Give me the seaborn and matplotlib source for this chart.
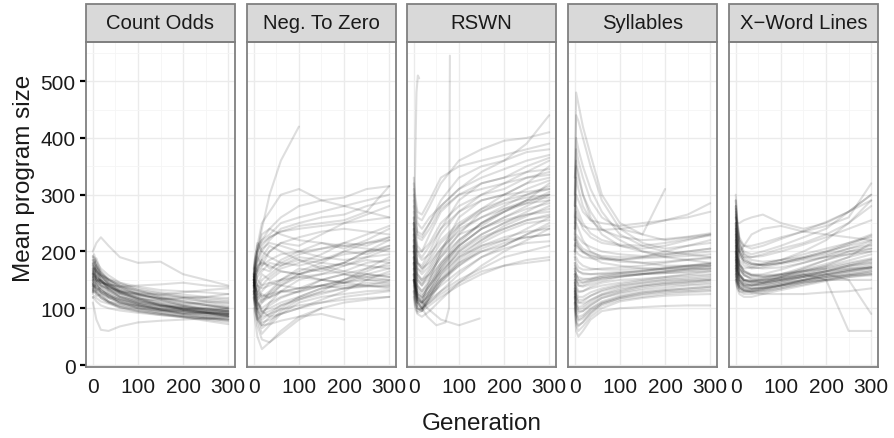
import numpy as np
import pandas as pd
import matplotlib
matplotlib.use("Agg")
import matplotlib.pyplot as plt
from matplotlib.patches import Rectangle
from matplotlib.ticker import MultipleLocator
import seaborn as sns

sns.set_style("white")
plt.rcParams['font.family'] = ['Liberation Sans', 'DejaVu Sans']

# ---------------- data ----------------
facets = ["Count Odds", "Neg. To Zero", "RSWN", "Syllables", "X\u2212Word Lines"]
generations = [0, 3, 8, 18, 35, 60, 100, 150, 200, 250, 300]

count_odds_runs = [
    [150,160,150,140,128,118,108,100,95,92,90],
    [170,175,165,150,135,122,110,102,96,92,88],
    [135,140,135,128,120,112,105,98,92,88,85],
    [190,195,180,160,145,130,118,110,104,100,98],
    [125,130,125,118,110,104,98,92,88,84,82],
    [160,165,158,148,138,130,122,118,115,112,110],
    [145,150,142,132,122,112,100,92,86,82,80],
    [180,185,172,155,140,128,115,105,98,94,92],
    [155,158,150,140,130,120,112,106,102,98,95],
    [140,148,145,140,135,130,126,124,128,132,135],
    [165,170,165,158,150,142,135,128,124,120,118],
    [120,118,112,105,100,96,92,88,85,82,80],
    [175,180,170,160,152,145,138,132,130,128,125],
    [150,155,150,145,138,128,118,108,100,95,92],
    [200,205,215,225,210,190,180,182,160,150,140],
    [110,100,80,62,60,68,75,78,80,82,84],
    [130,135,130,122,112,102,95,90,86,82,78],
    [160,162,155,145,132,120,108,98,90,84,80],
    [145,150,148,145,142,138,132,126,120,115,112],
    [185,190,182,170,158,145,132,120,112,106,100],
    [138,142,136,128,118,110,102,96,90,86,85],
    [155,160,155,148,140,132,125,118,112,106,100],
    [170,172,165,155,145,135,125,115,105,98,95],
    [128,132,128,120,112,105,100,95,92,90,88],
    [148,152,145,135,125,115,105,98,94,92,90],
    [162,168,160,150,142,138,140,142,145,140,138],
    [118,122,118,112,108,102,96,90,84,78,72],
    [178,182,175,165,152,140,130,124,120,118,115],
    [142,145,140,132,124,116,110,104,98,92,88],
    [132,138,134,126,118,110,104,100,98,96,95],
    [152,165,148,150,132,125,112,108,98,100,94],
    [168,160,170,145,140,126,118,105,102,96,92],
    [144,138,146,130,125,108,104,96,95,88,86],
    [185,178,188,165,148,138,124,116,108,110,104],
    [128,140,122,124,112,108,100,96,90,92,86],
    [158,170,152,150,136,126,116,114,106,104,100],
    [175,168,176,158,150,140,128,122,118,112,108],
    [138,146,132,136,120,114,106,98,96,92,90],
    [162,150,158,140,134,120,114,104,100,94,90],
    [148,158,150,148,140,128,124,116,118,120,125],
    [192,186,174,162,150,136,126,118,110,106,102],
    [134,128,130,118,110,100,94,88,84,80,76],
    [166,176,162,156,144,132,120,112,104,98,96],
    [142,136,140,128,122,116,108,104,100,100,98],
    [178,172,166,158,142,130,116,106,98,92,86],
]

neg_zero_runs = [
    [140,120,90,70,85,100,120,135,140,140,138],
    [150,170,200,230,240,230,220,215,210,205,200],
    [130,110,80,55,70,90,110,120,125,130,132],
    [160,180,210,250,270,300,310,290,295,310,315],
    [120,100,70,45,40,55,80,100,110,115,120],
    [145,160,180,200,190,180,175,185,195,200,205],
    [155,140,120,110,120,140,160,170,180,175,170],
    [135,150,170,190,210,200,185,170,160,150,145],
    [170,190,210,220,240,260,280,290,280,270,260],
    [125,105,85,65,75,95,115,130,150,170,190],
    [150,165,150,140,145,150,155,160,165,160,155],
    [140,120,100,80,90,105,115,125,135,140,148],
    [160,180,200,220,230,250,260,270,280,290,300],
    [130,115,95,75,80,90,100,115,130,150,165],
    [145,160,175,180,175,165,160,150,145,140,135],
    [155,175,200,240,300,360,420],
    [100,80,50,28,40,60,85,100],
    [150,140,130,120,125,130,135,140,150,160,170],
    [140,155,170,185,200,215,225,235,240,235,230],
    [130,120,100,90,95,105,118,128,135,138,140],
    [165,185,200,215,225,235,240,245,250,255,260],
    [145,130,110,95,100,110,120,135,145,155,160],
    [150,165,185,205,215,210,200,190,185,190,195],
    [135,125,110,100,110,120,130,140,145,150,150],
    [160,150,140,135,140,150,165,180,200,215,225],
    [140,155,165,175,185,195,200,205,210,215,220],
    [125,110,95,85,90,98,105,110,115,118,120],
    [155,170,190,210,225,235,245,250,255,270,315],
    [145,135,125,115,120,128,135,140,150,165,180],
    [150,140,115,95,85,90,100,110,120,125,130],
    [120,100,80,70,72,78,85,90,80],
    [138,160,130,150,160,175,190,185,200,195,210],
    [152,130,140,120,130,150,170,165,180,200,220],
    [128,145,160,170,165,185,200,215,205,220,240],
    [162,140,120,130,145,140,155,150,160,155,150],
    [118,95,80,88,110,130,150,160,175,190,205],
    [148,170,190,175,200,215,210,230,250,265,280],
    [142,125,105,115,125,140,135,150,145,160,155],
    [156,172,165,185,170,180,195,205,215,210,225],
    [132,118,98,110,128,145,160,175,165,180,185],
    [168,190,215,200,220,240,250,260,265,280,290],
    [146,128,115,125,118,130,128,140,135,145,142],
    [124,140,155,165,180,175,185,180,175,185,180],
    [158,140,125,140,155,170,180,195,215,230,245],
    [136,150,140,160,150,165,160,170,180,200,210],
    [150,132,108,92,105,118,130,150,160,170,175],
]

rswn_runs = [
    [200,160,120,110,150,200,260,290,300,320,350],
    [250,220,180,170,190,230,270,300,320,340,360],
    [150,120,100,95,120,160,200,230,250,270,290],
    [300,280,250,240,260,280,310,340,360,390,440],
    [180,140,110,100,110,130,160,190,210,230,250],
    [220,190,160,150,170,200,240,260,280,300,310],
    [130,110,95,100,130,170,210,240,260,280,300],
    [270,240,200,190,210,240,270,290,300,305,310],
    [160,130,110,105,115,130,150,170,190,200,210],
    [240,210,180,175,200,240,290,320,330,340,345],
    [190,150,120,115,135,165,200,225,240,255,265],
    [320,290,260,255,280,320,360,380,395,400,410],
    [170,140,115,110,130,160,190,210,220,225,230],
    [210,180,150,140,155,180,210,240,260,275,285],
    [140,115,100,95,105,120,140,160,175,185,190],
    [260,230,200,200,230,270,300,310,320,330,340],
    [200,170,140,130,150,180,220,250,270,290,300],
    [150,125,105,100,120,150,185,215,235,250,255],
    [230,200,170,165,185,215,245,270,285,295,300],
    [180,145,118,110,125,150,175,200,215,225,230],
    [280,260,230,225,250,290,330,350,360,375,380],
    [160,130,110,100,110,125,145,165,175,180,185],
    [210,175,140,130,145,175,210,240,255,265,270],
    [190,160,130,120,140,175,215,250,275,290,295],
    [250,215,180,170,180,205,235,260,275,285,290],
    [120,100,90,85,95,115,145,175,200,220,240],
    [330,300,270,265,290,330,350,360,370,380,390],
    [210,180,150,140,165,195,230,245,270,290,320],
    [260,240,210,200,215,250,280,300,310,330,335],
    [170,140,115,110,125,150,180,200,210,230,245],
    [230,190,160,150,160,190,230,270,290,310,325],
    [150,120,100,98,118,145,175,205,220,240,260],
    [290,260,225,220,240,275,300,320,330,350,365],
    [180,150,125,120,140,170,205,230,250,265,275],
    [240,210,170,160,175,205,245,275,300,320,330],
    [130,105,92,95,115,145,180,210,225,235,240],
    [200,165,135,125,140,165,195,220,240,255,262],
    [310,270,235,230,250,280,310,330,345,360,370],
    [160,135,112,108,122,140,165,190,205,215,218],
    [220,185,155,145,160,190,220,250,270,285,305],
    [250,225,195,185,195,220,250,275,290,300,315],
    [190,155,125,118,130,155,190,220,245,262,280],
]
# RSWN runs that stop early, with their own generations
rswn_spike1_gens = [0, 3, 6, 9, 12]
rswn_spike1_vals = [200, 350, 480, 510, 505]
rswn_spike2_gens = [0, 10, 30, 50, 70, 78, 80]
rswn_spike2_vals = [150, 110, 85, 70, 75, 100, 545]
rswn_short_gens = [0, 10, 30, 60, 100, 146]
rswn_short_vals = [150, 120, 100, 80, 70, 82]

syllables_runs = [
    [300,480,460,420,370,300,250,230,220,225,230],
    [280,440,430,400,350,290,240,215,205,210,215],
    [250,400,380,350,310,270,230,210,200,195,190],
    [220,350,330,300,270,240,220,200,190,185,180],
    [260,380,360,330,290,260,240,230,310],
    [200,250,240,220,200,190,185,180,175,175,175],
    [180,160,150,145,150,155,160,162,165,168,170],
    [150,120,110,108,115,125,135,140,145,148,150],
    [120,80,70,75,90,105,115,120,125,128,130],
    [100,60,50,60,80,95,100,102,104,105,105],
    [160,140,130,130,135,140,145,150,155,160,165],
    [200,220,210,200,190,180,175,170,168,170,172],
    [140,110,95,95,105,118,128,135,140,142,145],
    [230,270,260,240,225,215,210,205,210,220,230],
    [170,150,140,138,142,148,155,160,165,170,175],
    [130,95,85,88,100,112,122,128,132,135,138],
    [190,200,195,190,188,186,185,190,200,210,220],
    [155,130,120,120,128,135,142,148,152,155,158],
    [240,300,290,270,255,250,245,250,255,260,270],
    [110,70,60,68,85,100,112,118,122,124,125],
    [175,170,165,162,160,160,162,165,170,175,180],
    [210,230,225,215,208,200,195,192,195,200,205],
    [145,120,110,112,122,132,140,145,150,152,155],
    [185,190,182,175,170,168,168,170,172,175,178],
    [125,90,80,85,98,110,120,128,132,135,138],
    [165,160,155,152,152,155,158,160,162,163,165],
    [220,260,255,245,240,238,240,245,255,265,285],
    [135,105,98,100,110,122,130,138,142,145,148],
    [195,210,205,198,192,188,186,188,190,192,195],
    [160,150,145,145,148,152,156,160,162,165,168],
    [330,360,340,300,260,230,210,200,195,200,205],
    [150,135,128,130,138,145,150,152,155,158,160],
    [190,180,172,168,168,170,172,175,180,185,188],
    [110,75,68,76,92,108,118,125,130,132,135],
    [240,280,270,250,232,220,212,210,215,222,228],
    [170,158,150,150,152,158,162,166,170,172,175],
    [135,112,102,104,114,124,132,140,144,146,150],
    [210,225,215,205,198,192,190,190,192,196,200],
    [160,148,140,140,146,152,156,160,164,168,170],
    [120,88,78,82,95,108,118,124,128,130,132],
    [280,330,310,280,255,238,226,220,222,226,232],
    [180,172,165,160,160,162,164,166,170,174,178],
    [145,125,115,115,122,130,138,144,148,150,152],
    [200,215,208,200,194,188,182,180,182,186,190],
    [130,100,92,95,106,118,126,132,136,140,142],
]

xword_runs = [
    [250,200,170,160,150,145,150,155,160,165,170],
    [200,170,150,140,135,135,140,148,155,160,165],
    [280,240,210,190,180,175,180,190,200,210,220],
    [180,160,145,138,135,138,145,155,165,175,180],
    [300,260,220,200,195,200,210,225,240,270,300],
    [220,185,160,150,145,145,150,158,165,170,172],
    [160,145,135,130,130,132,138,145,150,155,158],
    [240,210,185,175,170,172,178,185,190,195,200],
    [190,165,148,140,140,145,155,170,185,200,210],
    [270,230,200,185,178,178,185,200,220,250,290],
    [210,180,160,150,148,152,160,172,185,195,205],
    [150,135,125,120,120,125,132,140,148,155,160],
    [260,250,250,255,260,265,250,240,250,270,300],
    [230,195,170,158,152,150,152,158,165,175,185],
    [175,150,135,130,128,132,140,150,160,168,175],
    [250,225,200,190,190,195,205,215,230,250,280],
    [200,175,155,145,140,140,145,150,155,158,160],
    [290,250,215,195,185,182,185,190,200,215,230],
    [165,148,138,132,130,130,135,145,150,150,150],
    [230,210,200,210,230,240,245,235,230,225,220],
    [185,160,145,140,140,142,148,155,162,168,172],
    [245,210,180,165,158,155,158,165,175,190,215],
    [210,190,175,170,172,178,185,195,205,215,225],
    [170,150,138,132,128,125,125,125,128,130,135],
    [275,245,220,210,210,215,225,235,245,260,320],
    [220,185,160,150,148,150,155,160,150,60,60],
    [190,165,150,142,140,142,148,155,160,150,90],
    [200,175,158,150,148,150,155,165,170],
    [260,225,195,180,172,170,172,180,190,200,205],
    [155,140,130,125,125,128,135,142,150,158,165],
    [240,205,178,165,158,156,160,168,178,190,200],
    [205,178,158,148,145,146,152,160,168,175,182],
    [265,230,200,185,178,176,180,188,198,212,228],
    [175,155,142,136,134,136,142,150,158,165,172],
    [225,195,172,162,158,160,168,180,192,205,218],
    [185,165,150,144,142,144,150,158,165,172,178],
    [290,255,225,210,205,210,222,236,252,270,290],
    [160,145,136,132,132,135,140,148,155,162,168],
    [250,220,195,182,176,176,180,188,195,205,212],
    [195,172,156,148,146,148,154,162,170,178,186],
    [215,188,168,158,154,154,158,165,172,180,188],
    [170,152,140,135,134,136,142,150,158,166,172],
    [280,245,212,196,190,192,200,212,225,240,255],
    [235,202,178,166,160,158,160,166,174,184,195],
    [150,138,130,128,130,134,140,146,152,158,162],
]

# ---------------- long table ----------------
rows = []
def add_run(facet, run_id, gens, vals):
    for g, v in zip(gens, vals):
        rows.append((facet, run_id, g, v))

for facet, runs in zip(facets, [count_odds_runs, neg_zero_runs, rswn_runs,
                                syllables_runs, xword_runs]):
    for i, r in enumerate(runs):
        add_run(facet, i, generations[:len(r)], r)
add_run(facets[2], 100, rswn_spike1_gens, rswn_spike1_vals)
add_run(facets[2], 101, rswn_spike2_gens, rswn_spike2_vals)
add_run(facets[2], 102, rswn_short_gens, rswn_short_vals)
df = pd.DataFrame(rows, columns=["facet", "run", "Generation", "size"])

# ---------------- figure ----------------
W, H = 895, 439
fig = plt.figure(figsize=(W / 100, H / 100), dpi=100)
panel_x = [86, 247, 407, 568, 729]
panel_w = 149
top_px, bot_px = 43, 368
strip_px = 38

for k, facet in enumerate(facets):
    ax = fig.add_axes([panel_x[k] / W, 1 - bot_px / H, panel_w / W, (bot_px - top_px) / H])
    ax.set_xlim(-15, 315)
    ax.set_ylim(-3.5, 569)
    ax.xaxis.set_major_locator(MultipleLocator(100))
    ax.xaxis.set_minor_locator(MultipleLocator(50))
    ax.yaxis.set_major_locator(MultipleLocator(100))
    ax.yaxis.set_minor_locator(MultipleLocator(50))
    ax.grid(which="major", color="#EBEBEB", lw=1.0)
    ax.grid(which="minor", color="#F5F5F5", lw=0.6)
    ax.set_axisbelow(True)
    sub = df[df.facet == facet]
    sns.lineplot(data=sub, x="Generation", y="size", units="run", estimator=None,
                 color="black", alpha=0.13, lw=1.5, ax=ax, legend=False)
    for s in ax.spines.values():
        s.set_color("#808080")
        s.set_linewidth(1.3)
    ax.tick_params(axis="both", which="major", length=4.5, width=1.6, color="black",
                   labelsize=15, labelcolor="#1A1A1A", pad=3)
    ax.tick_params(which="minor", length=0)
    ax.tick_params(axis="y", labelleft=(k == 0), left=(k == 0))
    ax.set_xlabel("")
    ax.set_ylabel("")
    # strip
    h = strip_px / (bot_px - top_px)
    ax.add_patch(Rectangle((0, 1), 1, h, transform=ax.transAxes, clip_on=False,
                           facecolor="#D9D9D9", edgecolor="#808080", lw=1.3))
    ax.text(0.5, 1 + h / 2, facet, transform=ax.transAxes, ha="center", va="center",
            fontsize=14.6, color="#1A1A1A")

fig.text(482 / W, 1 - 424 / H, "Generation", ha="center", va="center", fontsize=17.5,
         color="#1A1A1A")
fig.text(24 / W, 1 - 178 / H, "Mean program size", ha="center", va="center",
         rotation=90, fontsize=17.5, color="#1A1A1A")

fig.savefig("out.png", dpi=100)
